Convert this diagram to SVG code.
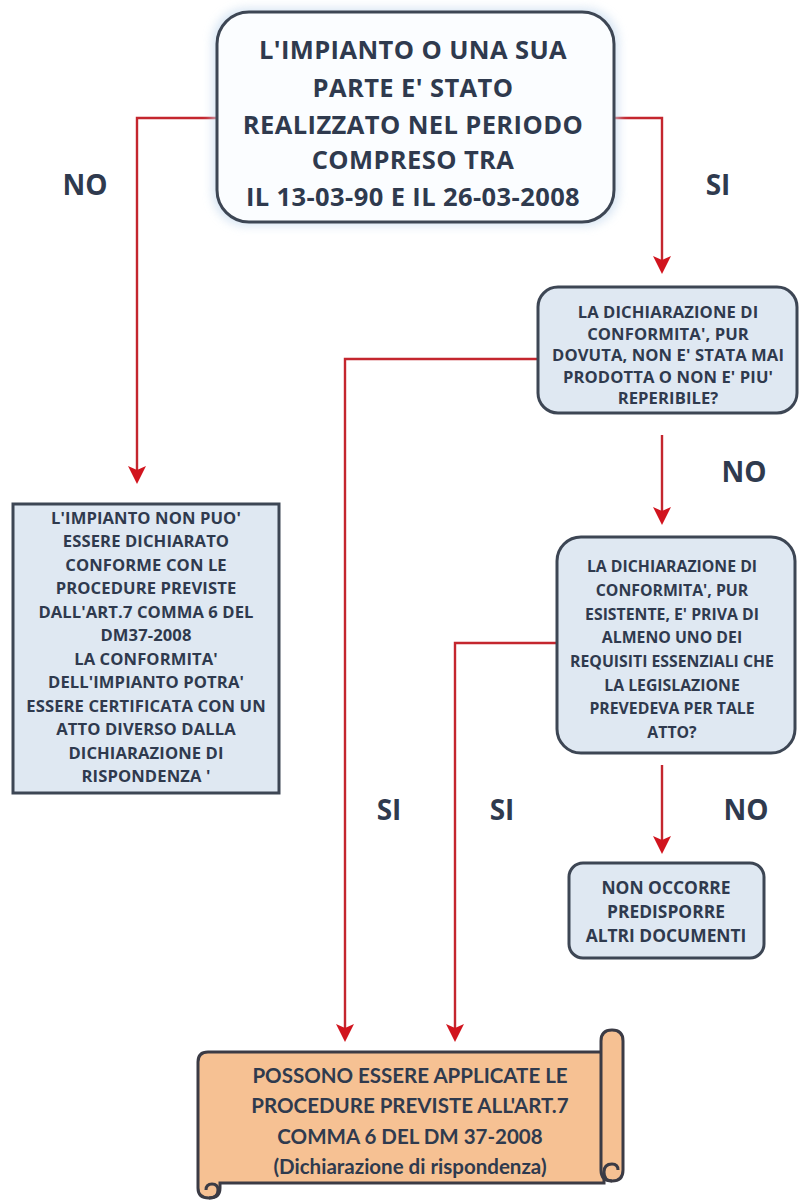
<svg xmlns="http://www.w3.org/2000/svg" width="800" height="1201" viewBox="0 0 800 1201">
<defs>
<style>
.t{font-family:"Open Sans",Lato,"Liberation Sans",sans-serif;font-weight:bold;fill:#2f3a4e;text-anchor:middle}
.big{font-size:25.5px;letter-spacing:0.4px}
.sm{font-size:16.6px;letter-spacing:0.1px}
.s3{font-size:15.8px}
.s4{font-size:17.4px}
.lab{font-size:28px}
.scr{font-family:Lato,"Open Sans",sans-serif;font-size:20.5px}
.con{fill:none;stroke:#c4262e;stroke-width:2.4}
.box{fill:#dfe8f2;stroke:#3d4654;stroke-width:3}
</style>
<filter id="glow" x="-10%" y="-10%" width="120%" height="120%"><feGaussianBlur stdDeviation="5"/></filter>
</defs>
<rect width="800" height="1201" fill="#ffffff"/>

<g id="connectors">
<path class="con" d="M217 118 H137 V470"/>
<path class="con" d="M615 118 H662 V260"/>
<path class="con" d="M538 359 H345 V1028"/>
<path class="con" d="M662 435 V511"/>
<path class="con" d="M557 643 H455 V1028"/>
<path class="con" d="M662 765 V840"/>
<g fill="#d1141e">
<path d="M128 466 L137 470 L146 466 L137 484 Z"/>
<path d="M653 256 L662 260 L671 256 L662 274 Z"/>
<path d="M653 507 L662 511 L671 507 L662 525 Z"/>
<path d="M653 836 L662 840 L671 836 L662 854 Z"/>
<path d="M336 1024 L345 1028 L354 1024 L345 1042 Z"/>
<path d="M446 1024 L455 1028 L464 1024 L455 1042 Z"/>
</g>
</g>

<g id="labels">
<text class="t lab" x="85" y="195">NO</text>
<text class="t lab" x="718" y="195">SI</text>
<text class="t lab" x="744" y="482">NO</text>
<text class="t lab" x="389" y="820">SI</text>
<text class="t lab" x="502" y="820">SI</text>
<text class="t lab" x="746" y="820">NO</text>
</g>

<g id="n1">
<rect x="212" y="8" width="407" height="218" rx="34" fill="#c9dcef" filter="url(#glow)" opacity="0.7"/>
<rect x="217" y="12" width="397" height="210" rx="32" fill="#fbfdff" stroke="#3d4654" stroke-width="3"/>
<text class="t big" x="413" y="59">L'IMPIANTO O UNA SUA</text>
<text class="t big" x="413" y="97">PARTE E' STATO</text>
<text class="t big" x="413" y="134">REALIZZATO NEL PERIODO</text>
<text class="t big" x="413" y="169">COMPRESO TRA</text>
<text class="t big" x="413" y="206">IL 13-03-90 E IL 26-03-2008</text>
</g>

<g id="n2">
<rect class="box" x="538" y="287" width="259" height="126" rx="20"/>
<text class="t sm" x="668" y="318">LA DICHIARAZIONE DI</text>
<text class="t sm" x="668" y="340">CONFORMITA', PUR</text>
<text class="t sm" x="668" y="361">DOVUTA, NON E' STATA MAI</text>
<text class="t sm" x="668" y="383">PRODOTTA O NON E' PIU'</text>
<text class="t sm" x="668" y="404">REPERIBILE?</text>
</g>

<g id="n3">
<rect class="box" x="557" y="537" width="238" height="216" rx="24"/>
<text class="t s3" x="672" y="572">LA DICHIARAZIONE DI</text>
<text class="t s3" x="672" y="596">CONFORMITA', PUR</text>
<text class="t s3" x="672" y="620">ESISTENTE, E' PRIVA DI</text>
<text class="t s3" x="672" y="643">ALMENO UNO DEI</text>
<text class="t s3" x="672" y="667">REQUISITI ESSENZIALI CHE</text>
<text class="t s3" x="672" y="691">LA LEGISLAZIONE</text>
<text class="t s3" x="672" y="714">PREVEDEVA PER TALE</text>
<text class="t s3" x="672" y="738">ATTO?</text>
</g>

<g id="n4">
<rect class="box" x="569" y="863" width="195" height="95" rx="14"/>
<text class="t s4" x="666" y="894">NON OCCORRE</text>
<text class="t s4" x="666" y="918">PREDISPORRE</text>
<text class="t s4" x="666" y="942">ALTRI DOCUMENTI</text>
</g>

<g id="n5">
<rect class="box" x="13" y="504" width="266" height="289"/>
<text class="t sm" x="146" y="524">L'IMPIANTO NON PUO'</text>
<text class="t sm" x="146" y="547">ESSERE DICHIARATO</text>
<text class="t sm" x="146" y="571">CONFORME CON LE</text>
<text class="t sm" x="146" y="594">PROCEDURE PREVISTE</text>
<text class="t sm" x="146" y="618">DALL'ART.7 COMMA 6 DEL</text>
<text class="t sm" x="146" y="641">DM37-2008</text>
<text class="t sm" x="146" y="665">LA CONFORMITA'</text>
<text class="t sm" x="146" y="688">DELL'IMPIANTO POTRA'</text>
<text class="t sm" x="146" y="712">ESSERE CERTIFICATA CON UN</text>
<text class="t sm" x="146" y="735">ATTO DIVERSO DALLA</text>
<text class="t sm" x="146" y="759">DICHIARAZIONE DI</text>
<text class="t sm" x="146" y="782">RISPONDENZA '</text>
</g>

<g id="n6" stroke="#3b3b45" stroke-width="3" fill="#f6c193">
<path d="M198 1062 Q198 1052 208 1052 H604 V1183 H220 V1188 Q220 1198 209 1198 Q198 1198 198 1188 Z"/>
<path d="M601 1041 Q601 1030 612 1030 Q623 1030 623 1041 V1170 Q623 1181 612 1181 Q601 1181 601 1170 Z"/>
<path d="M612 1181 Q604 1181 604 1172 Q604 1164 612 1164 Q618 1164 618 1170" fill="none"/>
<path d="M209 1198 Q218 1198 218 1190 Q218 1184 212 1184 Q206 1184 206 1190" fill="none"/>
<text class="t scr" stroke="none" fill="#2f3a4e" x="410" y="1083">POSSONO ESSERE APPLICATE LE</text>
<text class="t scr" stroke="none" fill="#2f3a4e" x="410" y="1113">PROCEDURE PREVISTE ALL'ART.7</text>
<text class="t scr" stroke="none" fill="#2f3a4e" x="410" y="1144">COMMA 6 DEL DM 37-2008</text>
<text class="t scr" stroke="none" fill="#2f3a4e" x="410" y="1174">(Dichiarazione di rispondenza)</text>
</g>
</svg>
